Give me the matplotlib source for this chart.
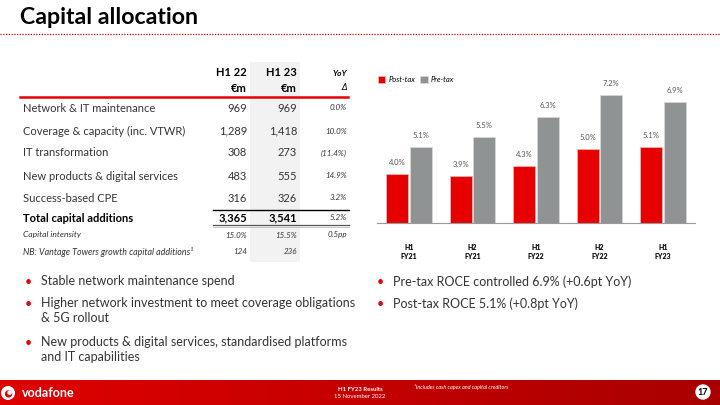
import matplotlib as ml
ml.use("Agg")
import matplotlib.pyplot as plt
import numpy as np
from matplotlib.patches import Rectangle, Circle

plt.rcParams['font.family'] = ['Lato', 'DejaVu Sans']

################################################################################
# data
################################################################################
periods = ["H1\nFY21", "H2\nFY21", "H1\nFY22", "H2\nFY22", "H1\nFY23"]
post_tax = [4.0, 3.9, 4.3, 5.0, 5.1]
pre_tax = [5.1, 5.5, 6.3, 7.2, 6.9]

row_labels = ["Network & IT maintenance", "Coverage & capacity (inc. VTWR)",
              "IT transformation", "New products & digital services",
              "Success-based CPE"]
h1_22 = ["969", "1,289", "308", "483", "316"]
h1_23 = ["969", "1,418", "273", "555", "326"]
yoy = ["0.0%", "10.0%", "(11.4%)", "14.9%", "3.2%"]
total = ["Total capital additions", "3,365", "3,541", "5.2%"]
intensity = ["Capital intensity", "15.0%", "15.5%", "0.5pp"]
vantage = ["NB: Vantage Towers growth capital additions\u00b9", "124", "236", ""]

bullets_left = ["Stable network maintenance spend",
                "Higher network investment to meet coverage obligations\n& 5G rollout",
                "New products & digital services, standardised platforms\nand IT capabilities"]
bullets_right = ["Pre-tax ROCE controlled 6.9% (+0.6pt YoY)",
                 "Post-tax ROCE 5.1% (+0.8pt YoY)"]

RED = '#E60000'
GREY = '#8F9393'
DARK = '#333333'

################################################################################
# slide
################################################################################
fig = plt.figure(figsize=(7.2, 4.05), dpi=100)
bg = fig.add_axes([0, 0, 1, 1])
bg.set_xlim(0, 720)
bg.set_ylim(405, 0)
bg.axis('off')

# title
bg.text(20, 17, "Capital allocation", fontsize=16.7, fontweight='bold',
        color='black', va='center', ha='left')
bg.plot([0, 720], [34, 34], color=RED, lw=0.9, ls=(0, (1, 1.2)))

# table
bg.add_patch(Rectangle((250, 62), 50, 200, color='#F2F2F2', lw=0, zorder=0))
for xr, txt in [(247, "H1 22"), (297, "H1 23")]:
    bg.text(xr, 73, txt, ha='right', va='center', fontsize=8, fontweight='bold')
    bg.text(xr, 88, "\u20acm", ha='right', va='center', fontsize=8, fontweight='bold')
bg.text(347, 73, "YoY", ha='right', va='center', fontsize=6, fontweight='bold',
        style='italic')
bg.text(347, 88, "\u0394", ha='right', va='center', fontsize=6, style='italic',
        family=['DejaVu Sans'])
bg.plot([20, 348], [97, 97], color=RED, lw=1.8)

row_y = [108, 131, 153, 176, 198]
for i, y in enumerate(row_y):
    bg.text(23, y, row_labels[i], ha='left', va='center', fontsize=8, color=DARK)
    bg.text(247, y, h1_22[i], ha='right', va='center', fontsize=8, color=DARK)
    bg.text(297, y, h1_23[i], ha='right', va='center', fontsize=8, color=DARK)
    bg.text(347, y, yoy[i], ha='right', va='center', fontsize=5.8, color=DARK,
            style='italic')

bg.plot([213, 349], [210, 210], color='black', lw=1.0)
bg.text(23, 218, total[0], ha='left', va='center', fontsize=8, fontweight='bold')
bg.text(247, 218, total[1], ha='right', va='center', fontsize=8, fontweight='bold')
bg.text(297, 218, total[2], ha='right', va='center', fontsize=8, fontweight='bold')
bg.text(347, 218, total[3], ha='right', va='center', fontsize=5.8, style='italic',
        color=DARK)
bg.plot([213, 349], [224.5, 224.5], color='#555555', lw=0.9)
bg.plot([213, 349], [226.5, 226.5], color='#BBBBBB', lw=0.6)

for row, y, fs in [(intensity, 235, 6.1), (vantage, 252, 6.4)]:
    bg.text(23, y, row[0], ha='left', va='center', fontsize=fs, style='italic',
            color=DARK)
    for xr, v in zip([247, 297, 347], row[1:]):
        bg.text(xr, y, v, ha='right', va='center', fontsize=5.8, style='italic',
                color=DARK)

# bullets
def bullets(x, ys, items):
    for y, t in zip(ys, items):
        bg.text(x, y + 1, "\u2022", ha='center', va='top', fontsize=9, color=RED)
        bg.text(x + 13, y, t, ha='left', va='top', fontsize=9, color=DARK,
                linespacing=1.3)

bullets(28, [275, 297, 336], bullets_left)
bullets(380, [275, 297], bullets_right)

# footer
grad = np.linspace(0, 1, 256).reshape(1, -1)
bg.imshow(grad, extent=(0, 720, 405, 380), aspect='auto',
          cmap=ml.colors.LinearSegmentedColormap.from_list('f', ['#E00000', '#A80000']),
          zorder=1)
bg.set_xlim(0, 720)
bg.set_ylim(405, 0)
bg.add_patch(Circle((8, 393), 6.3, color='white', zorder=2))
bg.add_patch(Circle((8.6, 393.8), 3.0, color=RED, zorder=3))
bg.add_patch(Circle((9.6, 392.6), 1.6, color='white', zorder=4))
bg.text(22, 393, "vodafone", color='white', fontsize=9, fontweight='bold',
        va='center', ha='left', zorder=3)
bg.text(360, 389.5, "H1 FY23 Results", color='white', fontsize=4.3,
        fontweight='bold', ha='center', va='center', zorder=3)
bg.text(360, 397, "15 November 2022", color='white', fontsize=4.3,
        ha='center', va='center', zorder=3)
bg.text(414, 387, "\u00b9Includes cash capex and capital creditors", color='white',
        fontsize=4, style='italic', ha='left', va='center', zorder=3)
bg.add_patch(Circle((703, 392), 7, color='white', zorder=2))
bg.text(703, 392.5, "17", color='black', fontsize=6.5, fontweight='bold',
        ha='center', va='center', zorder=3)

################################################################################
# ROCE chart
################################################################################
ax = fig.add_axes([377 / 720, 1 - 223 / 405, 318 / 720, 148 / 405])
x = np.arange(len(periods))
w = 0.345
b1 = ax.bar(x - 0.185, post_tax, w, bottom=0, color=RED, edgecolor='#F3B0B0',
            lw=0.6, label='Post-tax')
b2 = ax.bar(x + 0.185, pre_tax, w, bottom=0, color=GREY, edgecolor='#D5D6D6',
            lw=0.6, label='Pre-tax')
for bars, vals in [(b1, post_tax), (b2, pre_tax)]:
    for r, v in zip(bars, vals):
        ax.text(r.get_x() + r.get_width() / 2, v + 0.32, "%.1f%%" % v,
                ha='center', va='bottom', fontsize=5.5, color='#555555')
ax.set_xlim(-0.5, len(periods) - 0.5)
ax.set_ylim(2, 8)
ax.set_xticks(x)
ax.set_xticklabels(periods, fontsize=5, fontweight='heavy', color='#111111',
                   linespacing=1.4)
ax.tick_params(axis='x', length=0, pad=15)
ax.set_yticks([])
for s in ['top', 'right', 'left']:
    ax.spines[s].set_visible(False)
ax.spines['bottom'].set_color('#999999')
ax.spines['bottom'].set_linewidth(0.8)
ax.patch.set_alpha(0)
ax.legend(loc='upper left', bbox_to_anchor=(-0.02, 1.04), ncol=2, frameon=False,
          handlelength=1.0, handleheight=1.0, columnspacing=0.7,
          handletextpad=0.4, prop={'style': 'italic', 'size': 5.5})

fig.savefig('out.png', dpi=100)
